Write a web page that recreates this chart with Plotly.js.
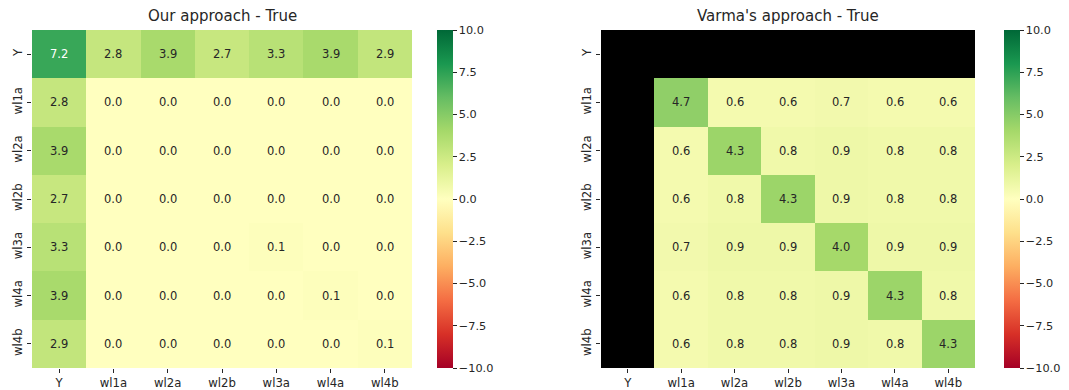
<!DOCTYPE html>
<html>
<head>
<meta charset="utf-8">
<script src="https://cdn.plot.ly/plotly-3.0.1.min.js"></script>
<style>html,body{margin:0;padding:0;background:#fff;}#chart{width:1069px;height:390px;}</style>
</head>
<body>
<div id="chart"></div>
<script>
const categories = ["Y", "wl1a", "wl2a", "wl2b", "wl3a", "wl4a", "wl4b"];

const oursY    = [7.2, 2.8, 3.9, 2.7, 3.3, 3.9, 2.9];
const oursWl1a = [2.8, 0.0, 0.0, 0.0, 0.0, 0.0, 0.0];
const oursWl2a = [3.9, 0.0, 0.0, 0.0, 0.0, 0.0, 0.0];
const oursWl2b = [2.7, 0.0, 0.0, 0.0, 0.0, 0.0, 0.0];
const oursWl3a = [3.3, 0.0, 0.0, 0.0, 0.1, 0.0, 0.0];
const oursWl4a = [3.9, 0.0, 0.0, 0.0, 0.0, 0.1, 0.0];
const oursWl4b = [2.9, 0.0, 0.0, 0.0, 0.0, 0.0, 0.1];

const varmaY    = [null, null, null, null, null, null, null];
const varmaWl1a = [null, 4.7, 0.6, 0.6, 0.7, 0.6, 0.6];
const varmaWl2a = [null, 0.6, 4.3, 0.8, 0.9, 0.8, 0.8];
const varmaWl2b = [null, 0.6, 0.8, 4.3, 0.9, 0.8, 0.8];
const varmaWl3a = [null, 0.7, 0.9, 0.9, 4.0, 0.9, 0.9];
const varmaWl4a = [null, 0.6, 0.8, 0.8, 0.9, 4.3, 0.8];
const varmaWl4b = [null, 0.6, 0.8, 0.8, 0.9, 0.8, 4.3];

const colorbarTicks = [-10, -7.5, -5, -2.5, 0, 2.5, 5, 7.5, 10];
const titles = ["Our approach - True", "Varma's approach - True"];

const oursZ = [oursY, oursWl1a, oursWl2a, oursWl2b, oursWl3a, oursWl4a, oursWl4b];
const varmaZ = [varmaY, varmaWl1a, varmaWl2a, varmaWl2b, varmaWl3a, varmaWl4a, varmaWl4b];

const rdylgn = ["#a50026","#d73027","#f46d43","#fdae61","#fee08b","#ffffbf","#d9ef8b","#a6d96a","#66bd63","#1a9850","#006837"];
const colorscale = rdylgn.map((c, i) => [i / (rdylgn.length - 1), c]);

const FONT = "DejaVu Sans, sans-serif";
const TXT = "#262626";

function cbar(x) {
  return {
    x: x, xanchor: "left", y: 1 - 30/390, yanchor: "top",
    len: 338/390, lenmode: "fraction", thickness: 16, thicknessmode: "pixels",
    outlinewidth: 0, tickvals: colorbarTicks, tickformat: ".1f",
    ticks: "outside", ticklen: 4, tickcolor: TXT, tickfont: {family: FONT, size: 11.3, color: TXT},
    xpad: 0, ypad: 0
  };
}

const traces = [
  {type: "heatmap", x: categories, y: categories, z: oursZ, zmin: -10, zmax: 10,
   colorscale: colorscale, xaxis: "x", yaxis: "y", colorbar: cbar(437/1069), hoverinfo: "skip"},
  {type: "heatmap", x: categories, y: categories, z: varmaZ, zmin: -10, zmax: 10,
   colorscale: colorscale, xaxis: "x2", yaxis: "y2", colorbar: cbar(1004/1069), hoverinfo: "skip"}
];

const annotations = [];
[[oursZ, "x", "y"], [varmaZ, "x2", "y2"]].forEach(([Z, xr, yr]) => {
  Z.forEach((row, i) => row.forEach((v, j) => {
    if (v === null) return;
    annotations.push({x: categories[j], y: categories[i], xref: xr, yref: yr,
      text: v.toFixed(1), showarrow: false,
      font: {family: FONT, size: 11.5, color: v > 6 ? "#ffffff" : TXT}});
  }));
});
const xDomains = [[32/1069, 412/1069], [601/1069, 975/1069]];
titles.forEach((t, k) => {
  annotations.push({x: (xDomains[k][0] + xDomains[k][1]) / 2, y: 1 - 16/390, xref: "paper", yref: "paper",
    text: t, showarrow: false, xanchor: "center", yanchor: "middle",
    font: {family: FONT, size: 15, color: TXT}});
});

function xax(dom, anchor) {
  return {domain: dom, anchor: anchor, type: "category", showgrid: false, zeroline: false,
    ticks: "outside", ticklen: 4, tickcolor: TXT, tickfont: {family: FONT, size: 11.7, color: TXT},
    showline: false, fixedrange: true};
}
function yax(anchor) {
  return {domain: [1 - 368/390, 1 - 30/390], anchor: anchor, type: "category", autorange: "reversed",
    showgrid: false, zeroline: false, ticks: "outside", ticklen: 4, tickcolor: TXT,
    tickangle: -90, tickfont: {family: FONT, size: 11.7, color: TXT}, showline: false, fixedrange: true};
}

const layout = {
  width: 1069, height: 390,
  margin: {l: 0, r: 0, t: 0, b: 0},
  paper_bgcolor: "#ffffff", plot_bgcolor: "#000000",
  showlegend: false,
  xaxis: xax(xDomains[0], "y"),
  yaxis: yax("x"),
  xaxis2: xax(xDomains[1], "y2"),
  yaxis2: yax("x2"),
  annotations: annotations
};

Plotly.newPlot("chart", traces, layout, {staticPlot: true, displayModeBar: false});
</script>
</body>
</html>
